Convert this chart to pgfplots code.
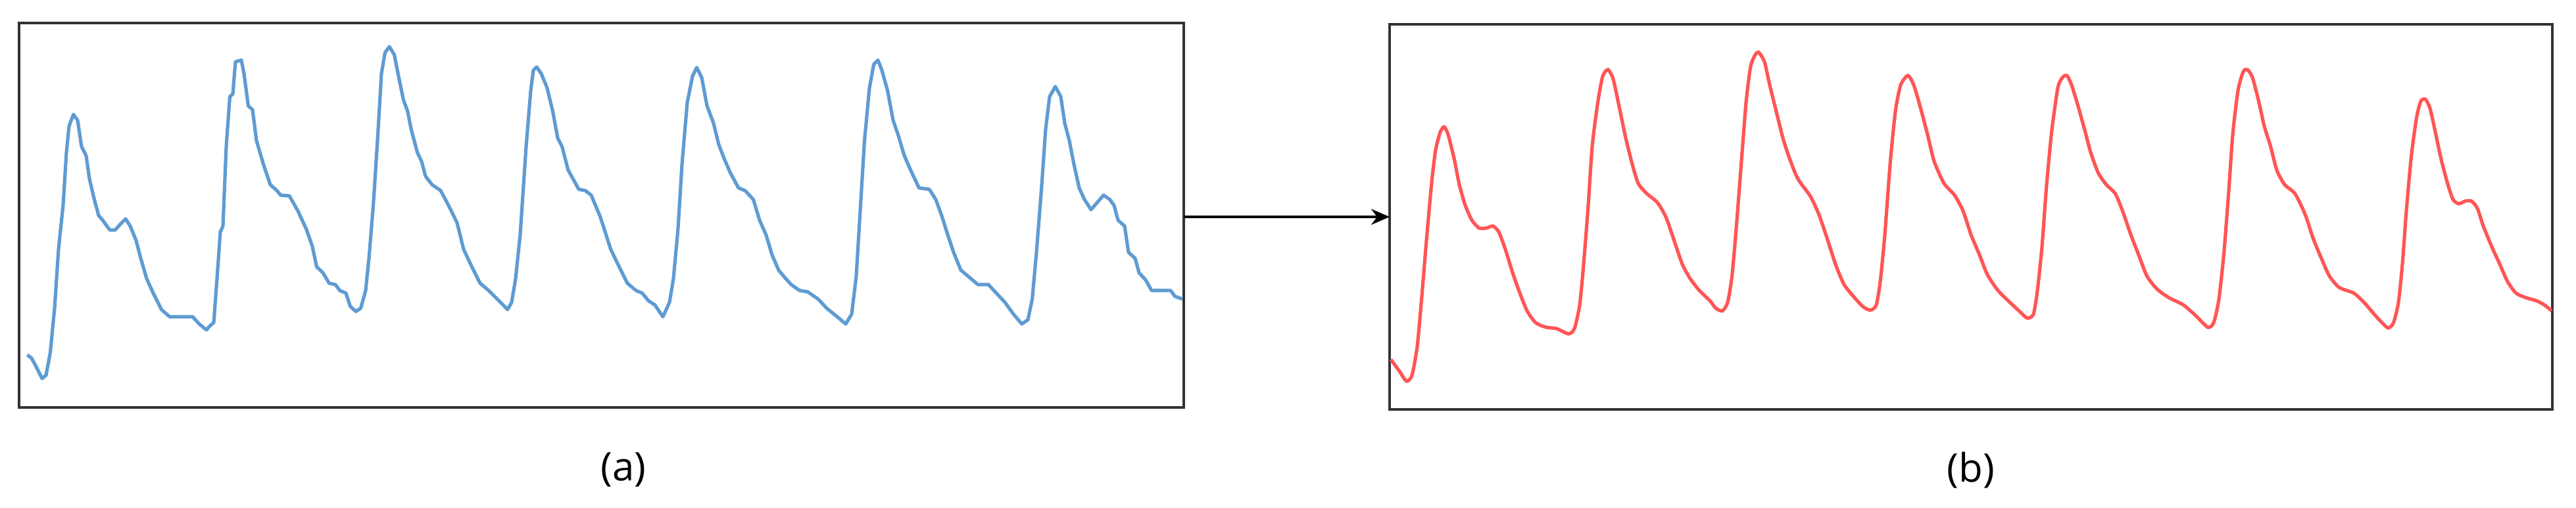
\documentclass[border=0pt]{standalone}
\usepackage{pgfplots}
\pgfplotsset{compat=1.18}
\usepackage{fontspec}
\setmainfont{Open Sans}
\usetikzlibrary{arrows.meta}

\definecolor{ppgblue}{RGB}{95,155,210}
\definecolor{ppgred}{RGB}{255,85,85}

% both panels use pixel coordinates (y grows downwards)
\pgfplotsset{
  panel/.style={
    scale only axis,
    anchor=south west,
    y dir=reverse,
    xtick=\empty, ytick=\empty,
    axis line style={black!80, line width=1pt},
    clip=true,
  }
}

\begin{document}
\begin{tikzpicture}
\path[use as bounding box] (0,0) rectangle (979.25pt,193pt);

% (a) raw signal
\begin{axis}[panel, at={(7.25pt,38pt)}, width=442.75pt, height=146.25pt,
  xmin=29, xmax=1800, ymin=35, ymax=620]
\addplot[ppgblue, line width=1.3pt, line join=round] coordinates {
(41.5,540) (48,545) (54,556) (64,576) (70,571) (76.5,536) (83,469) (89,379)
(96,312) (101,232) (105,192) (111.6,174) (118,183) (124,223) (131,237) (136,272)
(143.5,304) (150,328) (156,335) (167,350) (175,350) (185,339) (191,333) (198,344)
(207,366) (214,393) (223,424) (233,446) (245.5,471) (258,482) (293,482) (303,493)
(314,502) (319,496) (325,491) (330,424) (335,353) (339,344) (344,223) (349.5,147)
(354,143) (358,94) (367,91.5) (371,112) (377.5,161) (384,167) (390,214) (400.5,250)
(411,281) (421,290) (427,297) (440,298) (453,321) (465.5,348) (475,375) (481.5,406)
(491,415) (500.6,431) (510,433) (516.6,442) (526,446) (532.5,466) (541,474) (548.5,469)
(556,442) (561,393) (567.6,312.5) (574,214) (580,112) (585.5,80) (592,71) (599.5,83)
(606,116) (613.5,152) (620,170) (625,196) (634.6,232) (641,245.5) (647,268) (657,281)
(670,290) (682,312.5) (695,339) (705,379.5) (717.5,406) (730,431) (743,442) (756,455)
(765,464) (771.7,471) (778,460) (784,424) (791,357) (800,223) (807,138) (811,107)
(816,102) (823,112) (832,134) (840.6,170) (848,210) (854.6,223) (864,259) (874,277)
(880,288) (890,290) (899,297) (912.8,330) (928.7,379.5) (941.5,406) (954,431) (967,442)
(976.5,446) (986,457.6) (995.7,464) (1008,482) (1018,460) (1024,424) (1031,348) (1037,250)
(1045,156) (1053,116) (1059.4,102.7) (1067,118) (1075,161) (1085,187.5) (1092.6,219) (1101,241)
(1110.5,263) (1123,286) (1133,290) (1145.5,303.6) (1155,335) (1164.7,357) (1174,388) (1184,411)
(1193,422) (1203,433) (1215.7,442) (1228,444) (1244,455) (1257,469) (1273,482) (1286,493)
(1295,478) (1302,420) (1308,321) (1314.5,214) (1322,134) (1328.6,98) (1335,91.5) (1341,107)
(1349.6,138) (1358,183) (1365.6,205) (1375,236.6) (1384.7,259) (1397.4,286) (1413,288) (1423,303.6)
(1432.5,330) (1441,357) (1450,384) (1461,411) (1474,422) (1487,433) (1503,433) (1515,446)
(1528,460) (1541,478) (1553.7,493) (1563,486.6) (1569.6,455) (1576,384) (1583.7,286) (1590,196)
(1596,147) (1604.7,131.7) (1613,147) (1619,187.5) (1626,214) (1633,250) (1641,286) (1649,303.6)
(1659,319) (1668.5,308) (1678,297) (1687.6,303.6) (1694,312.5) (1700,335) (1710,344) (1716,384)
(1726,393) (1732,415) (1742,426) (1751,442) (1780,442) (1786.5,451) (1798,455)
};
\end{axis}

% (b) filtered signal
\begin{axis}[panel, at={(528.25pt,37.25pt)}, width=442pt, height=146.5pt,
  xmin=2113, xmax=3881, ymin=37, ymax=623]
\addplot[ppgred, line width=1.3pt, smooth, tension=0.4] coordinates {
(2115,547) (2128,565) (2138.7,580) (2147,571) (2155,527) (2161.6,455) (2169,366) (2177,277)
(2183,228) (2190,201) (2196,193) (2202,205) (2211,241) (2219,281) (2228,312.5) (2238,335)
(2249,347) (2260,347) (2270,344) (2279,353) (2289,379.5) (2300,415) (2311,446) (2322,473)
(2335,491) (2351,498) (2367,500) (2385,508) (2394,500) (2402,464) (2408,402) (2415,312.5)
(2421,223) (2429.5,156) (2437,116) (2445,106) (2453,120.5) (2462.6,165) (2472,210) (2482,250)
(2491,279) (2504,294.6) (2520,308) (2533,330) (2545.6,366) (2558,402) (2570,424) (2584,442)
(2600,457.6) (2609,469) (2619,473) (2627,460) (2633.6,420) (2640,348) (2647.6,250) (2655,156)
(2661.6,102.7) (2668,85) (2674,79.5) (2683,94) (2691,129.5) (2702,174) (2711,210) (2721,241)
(2733.7,272) (2753,299) (2765.6,326) (2778,362) (2791,402) (2804,433) (2820,453) (2832.6,466.5)
(2844,472) (2853,464) (2859,428.6) (2866,357) (2874,250) (2882,170) (2890,129.5) (2901,115)
(2910,129.5) (2920.5,165) (2931,205) (2941,245.5) (2956,279) (2972,297) (2985,321) (2997,357)
(3010,388) (3022,418) (3038,442) (3055,459) (3070,473) (3082.6,484) (3092,478) (3098,442)
(3105,375) (3111.6,286) (3119.6,201) (3129,134) (3136,118) (3143,115) (3150,129.5) (3159.7,161)
(3170.8,201) (3179,232) (3190.5,263) (3202.8,281) (3216.4,294.6) (3227.5,321) (3240,357) (3252,388)
(3264.5,420) (3280,440) (3298,453) (3320,464) (3338.5,480) (3357,498) (3366,491) (3374,455)
(3381.7,384) (3389,290) (3395,205) (3403,138) (3411,109) (3417.5,106) (3425,118) (3434,152)
(3443,192) (3452.6,223) (3462,259) (3474,281) (3489.6,294.6) (3505,326) (3517,362) (3529.7,393)
(3542,420) (3557,437.5) (3579,446) (3594.5,460) (3610,478) (3622,491) (3631.5,499) (3639.5,491)
(3647,460) (3653,402) (3659,321) (3666.6,237) (3674.6,178.6) (3681,154) (3688,151) (3695,165)
(3702,196) (3711.6,241) (3721,277) (3730,303.6) (3739,310) (3748.6,306) (3758,306) (3767,317)
(3776,344) (3788.7,375) (3801,402) (3813,428.6) (3825.7,446) (3841,453) (3856.6,457.6) (3869,464)
(3880,473)
};
\end{axis}

\draw[line width=1pt, -{Stealth[length=7pt, width=6pt]}] (450pt,110.5pt) -- (528.25pt,110.5pt);

\node[font=\fontsize{15}{18}\selectfont] at (237pt,14.25pt) {(a)};
\node[font=\fontsize{15}{18}\selectfont] at (749.25pt,14.25pt) {(b)};
\end{tikzpicture}
\end{document}
